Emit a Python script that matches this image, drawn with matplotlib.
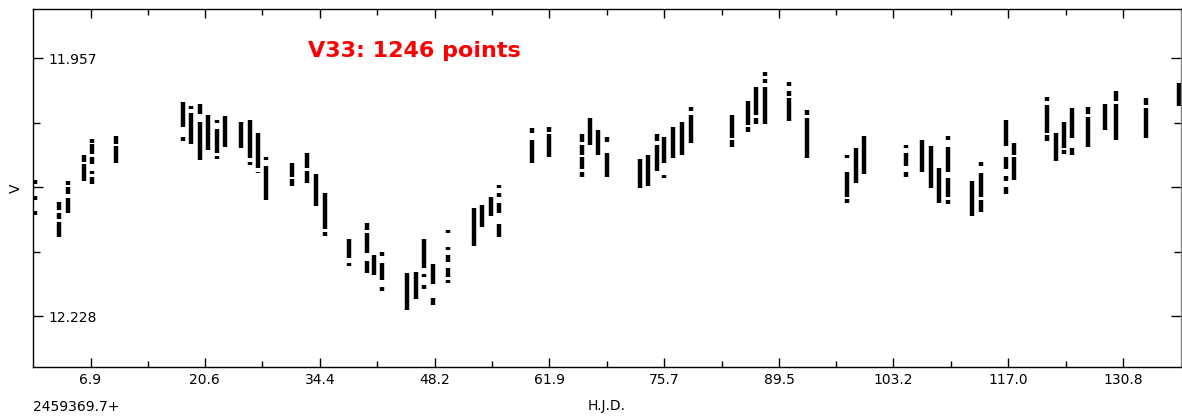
import matplotlib
matplotlib.use("Agg")
import matplotlib.pyplot as plt

# nights (HJD - 2459369.7) and the V runs seen on each night (bright, faint)
night_hjd = [0.18, 3.14, 4.14, 6.06, 7.10, 10.01, 18.05, 19.0, 20.08, 21.04,
             22.12, 23.08, 25.0, 26.08, 27.04, 28.0, 31.12, 32.91, 33.99, 35.07,
             37.95, 40.11, 40.95, 41.91, 44.9, 45.98, 46.94, 48.02, 49.82, 52.94,
             53.9, 54.98, 55.94, 59.89, 61.93, 65.89, 66.85, 67.81, 68.89, 72.85,
             73.8, 74.88, 75.72, 76.8, 77.88, 78.96, 83.87, 85.79, 86.75, 87.83,
             90.71, 92.87, 97.67, 98.74, 99.7, 104.74, 106.65, 107.73, 108.69, 109.77,
             112.65, 113.73, 116.73, 117.69, 121.65, 122.72, 123.68, 124.64, 126.56, 128.6,
             129.92, 133.52, 137.5]

night_runs = [
    [(12.085, 12.089), (12.102, 12.106), (12.118, 12.122)],
    [(12.108, 12.116), (12.120, 12.126), (12.129, 12.145)],
    [(12.086, 12.090), (12.092, 12.100), (12.104, 12.120)],
    [(12.059, 12.066), (12.068, 12.086)],
    [(12.042, 12.046), (12.047, 12.058), (12.061, 12.068), (12.075, 12.079), (12.082, 12.089)],
    [(12.039, 12.047), (12.049, 12.067)],
    [(12.003, 12.029), (12.040, 12.044)],
    [(12.007, 12.010), (12.014, 12.047)],
    [(12.005, 12.015), (12.024, 12.064)],
    [(12.016, 12.053)],
    [(12.022, 12.025), (12.031, 12.057), (12.060, 12.063)],
    [(12.018, 12.050)],
    [(12.024, 12.051)],
    [(12.022, 12.062), (12.066, 12.069)],
    [(12.035, 12.072), (12.076, 12.078)],
    [(12.061, 12.064), (12.070, 12.106)],
    [(12.067, 12.082), (12.084, 12.091)],
    [(12.057, 12.072), (12.075, 12.088)],
    [(12.079, 12.112)],
    [(12.099, 12.136), (12.140, 12.144)],
    [(12.147, 12.167), (12.172, 12.175)],
    [(12.130, 12.138), (12.141, 12.162), (12.170, 12.183)],
    [(12.164, 12.185)],
    [(12.161, 12.165), (12.172, 12.190), (12.197, 12.202)],
    [(12.183, 12.222)],
    [(12.182, 12.210)],
    [(12.147, 12.177), (12.184, 12.187), (12.195, 12.200)],
    [(12.173, 12.194), (12.209, 12.216)],
    [(12.137, 12.141), (12.155, 12.159), (12.164, 12.171), (12.177, 12.187), (12.190, 12.193)],
    [(12.114, 12.154)],
    [(12.111, 12.134)],
    [(12.103, 12.123)],
    [(12.090, 12.093), (12.099, 12.103), (12.109, 12.120), (12.131, 12.145)],
    [(12.030, 12.035), (12.043, 12.067)],
    [(12.029, 12.034), (12.036, 12.061)],
    [(12.037, 12.045), (12.048, 12.059), (12.061, 12.073), (12.077, 12.082)],
    [(12.020, 12.048)],
    [(12.032, 12.059)],
    [(12.040, 12.045), (12.057, 12.082)],
    [(12.063, 12.093)],
    [(12.059, 12.091)],
    [(12.037, 12.044), (12.048, 12.075)],
    [(12.040, 12.067), (12.080, 12.083)],
    [(12.029, 12.062)],
    [(12.024, 12.059)],
    [(12.008, 12.012), (12.017, 12.046)],
    [(12.016, 12.041), (12.043, 12.050)],
    [(12.002, 12.027), (12.029, 12.034)],
    [(11.987, 12.016), (12.020, 12.026)],
    [(11.971, 11.976), (11.979, 11.983), (11.987, 12.026)],
    [(11.982, 11.986), (11.991, 11.996), (11.999, 12.023)],
    [(12.011, 12.017), (12.020, 12.062)],
    [(12.059, 12.062), (12.077, 12.103), (12.105, 12.109)],
    [(12.051, 12.088)],
    [(12.039, 12.079)],
    [(12.048, 12.051), (12.056, 12.070), (12.077, 12.082)],
    [(12.043, 12.077)],
    [(12.049, 12.093)],
    [(12.072, 12.109)],
    [(12.039, 12.043), (12.050, 12.077), (12.083, 12.103), (12.106, 12.110)],
    [(12.086, 12.123)],
    [(12.066, 12.070), (12.078, 12.103), (12.106, 12.119)],
    [(12.022, 12.049), (12.061, 12.073), (12.081, 12.086), (12.092, 12.100)],
    [(12.046, 12.059), (12.061, 12.085)],
    [(11.998, 12.002), (12.006, 12.035), (12.038, 12.044)],
    [(12.035, 12.065)],
    [(12.024, 12.051), (12.053, 12.058)],
    [(12.009, 12.041), (12.051, 12.059)],
    [(12.008, 12.015), (12.019, 12.050)],
    [(12.005, 12.032)],
    [(11.991, 12.002), (12.005, 12.043)],
    [(11.999, 12.006), (12.009, 12.041)],
    [(11.983, 12.007)],
]

x_ticks = [6.9, 20.6, 34.4, 48.2, 61.9, 75.7, 89.5, 103.2, 117.0, 130.8]
x_labels = ["6.9", "20.6", "34.4", "48.2", "61.9", "75.7", "89.5", "103.2", "117.0", "130.8"]
y_ticks = [11.957, 12.0925, 12.228]
y_labels = ["11.957", "", "12.228"]

plt.rcParams['font.family'] = ['DejaVu Sans']

fig = plt.figure(figsize=(11.82, 4.19), dpi=100)
ax = fig.add_axes([33 / 1182, 52.3 / 419, 1148 / 1182, 357.7 / 419])

xs, tops, bots = [], [], []
for d, runs in zip(night_hjd, night_runs):
    for b, f in runs:
        xs.append(d)
        tops.append(b)
        bots.append(f)
ax.vlines(xs, tops, bots, colors='black', linewidth=3.2, capstyle='butt')

ax.set_xlim(0, 137.7)
ax.set_ylim(12.2813, 11.905)

ax.set_xticks(x_ticks)
ax.set_xticklabels(x_labels)
ax.set_xticks([(a + b) / 2 for a, b in zip(x_ticks[:-1], x_ticks[1:])], minor=True)
ax.set_yticks(y_ticks)
ax.set_yticklabels(y_labels)
ax.set_yticks([(a + b) / 2 for a, b in zip(y_ticks[:-1], y_ticks[1:])], minor=True)

ax.tick_params(which='both', direction='in', top=True, right=True,
               colors='black', labelsize=10, width=1)
ax.tick_params(axis='x', which='major', length=6.5, pad=4.5)
ax.tick_params(axis='x', which='minor', length=4.3)
ax.tick_params(axis='y', which='major', length=7, pad=-11)
ax.tick_params(axis='y', which='minor', length=5)
for lbl in ax.get_yticklabels():
    lbl.set_horizontalalignment('left')

for side in ['left', 'bottom', 'top']:
    ax.spines[side].set_linewidth(1.0)
    ax.spines[side].set_color('black')
ax.spines['right'].set_color('#808080')
ax.spines['right'].set_linewidth(1.0)

ax.set_xlabel("H.J.D.", fontsize=10, labelpad=9)
ax.set_ylabel("V", fontsize=10, labelpad=4)
ax.text(0.0, -0.092, "2459369.7+", transform=ax.transAxes, fontsize=10,
        ha='left', va='top')

ax.text(0.2395, 0.8667, "V33: 1246 points", transform=ax.transAxes,
        fontsize=16, fontweight='bold', color='#ff0000', ha='left', va='baseline')

fig.savefig("out.png", dpi=100, facecolor='white')
